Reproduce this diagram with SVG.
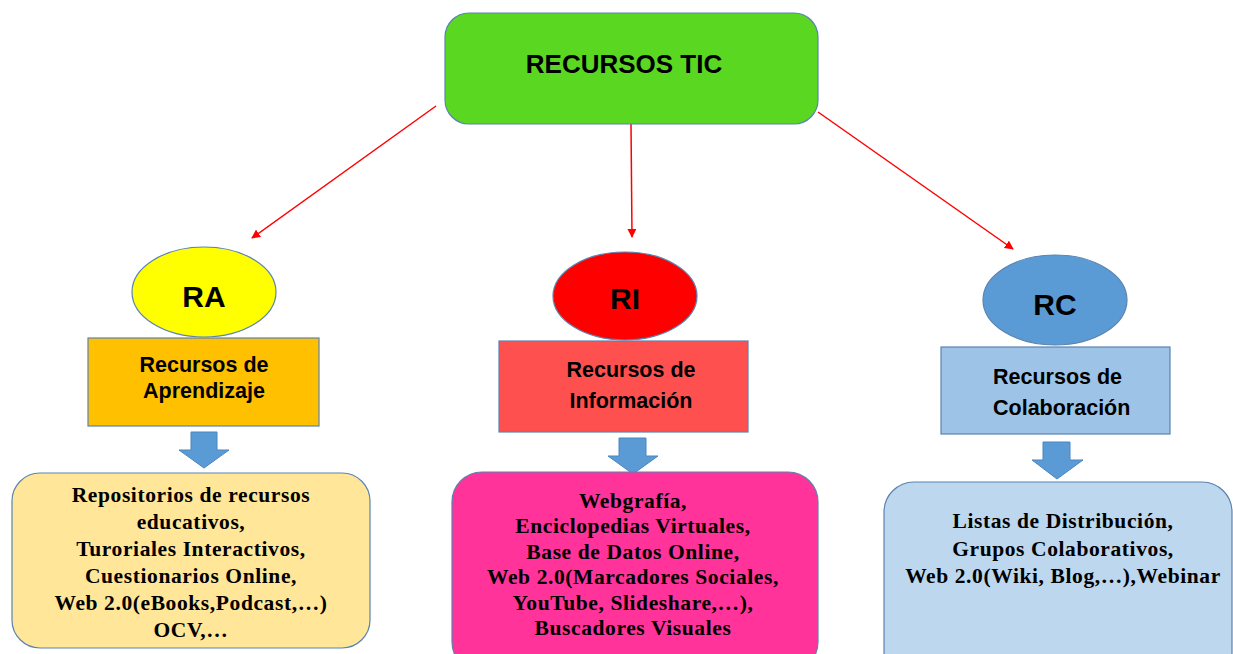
<svg xmlns="http://www.w3.org/2000/svg" width="1233" height="654" viewBox="0 0 1233 654">
<defs>
<style>
.sh{stroke:#5B83B0;stroke-width:1.2}
.lbl{font-family:"Liberation Sans",Arial,sans-serif;font-weight:bold;fill:#000}
.body{font-family:"Liberation Serif","Times New Roman",serif;font-weight:bold;font-size:21.5px;letter-spacing:0.6px;fill:#000;text-anchor:middle}
.con{stroke:#FF0000;stroke-width:1.5;fill:none}
.blk{fill:#5B9BD5;stroke:#4A86BF;stroke-width:1}
</style>
<marker id="ah2" viewBox="0 0 10 10" refX="9" refY="5" markerWidth="9" markerHeight="9" orient="auto" markerUnits="userSpaceOnUse">
<path d="M0,0 L10,5 L0,10 z" fill="#FF0000"/>
</marker>
</defs>
<rect width="1233" height="654" fill="#FFFFFF"/>

<g id="connectors">
<line class="con" x1="436" y1="106" x2="252" y2="238" marker-end="url(#ah2)"/>
<line class="con" x1="631" y1="124" x2="632" y2="237" marker-end="url(#ah2)"/>
<line class="con" x1="818" y1="112" x2="1013" y2="249" marker-end="url(#ah2)"/>
</g>

<g id="recursos-tic">
<rect class="sh" x="445" y="13" width="373" height="111" rx="24" fill="#5AD721"/>
<text class="lbl" x="624" y="73" font-size="26" text-anchor="middle">RECURSOS TIC</text>
</g>

<g id="ra">
<ellipse class="sh" cx="204" cy="292" rx="72" ry="45" fill="#FFFF00"/>
<text class="lbl" x="204" y="307" font-size="30" text-anchor="middle">RA</text>
</g>
<g id="ra-label">
<rect class="sh" x="88" y="338" width="231" height="88" fill="#FFC000"/>
<text class="lbl" x="204" y="372" font-size="21.5" text-anchor="middle">Recursos de</text>
<text class="lbl" x="204" y="398" font-size="21.5" text-anchor="middle">Aprendizaje</text>
</g>
<g id="ra-arrow">
<path class="blk" d="M191,432 H217 V450 H229 L204,468 L179,450 H191 Z"/>
</g>
<g id="ra-list">
<rect class="sh" x="12" y="473" width="358" height="175" rx="28" fill="#FFE699"/>
<text class="body" x="191" y="502">Repositorios de recursos</text>
<text class="body" x="191" y="529">educativos,</text>
<text class="body" x="191" y="556">Turoriales Interactivos,</text>
<text class="body" x="191" y="583">Cuestionarios Online,</text>
<text class="body" x="191" y="610">Web 2.0(eBooks,Podcast,…)</text>
<text class="body" x="191" y="637">OCV,…</text>
</g>

<g id="ri">
<ellipse class="sh" cx="625" cy="296" rx="72" ry="44" fill="#FF0000"/>
<text class="lbl" x="625" y="309" font-size="30" text-anchor="middle">RI</text>
</g>
<g id="ri-label">
<rect class="sh" x="499" y="341" width="249" height="91" fill="#FF5050"/>
<text class="lbl" x="631" y="377" font-size="21.5" text-anchor="middle">Recursos de</text>
<text class="lbl" x="631" y="408" font-size="21.5" text-anchor="middle">Información</text>
</g>
<g id="ri-arrow">
<path class="blk" d="M619,438 H646 V456 H658 L633,474 L608,456 H619 Z"/>
</g>
<g id="ri-list">
<rect class="sh" x="452" y="472" width="366" height="200" rx="30" fill="#FF3399"/>
<text class="body" x="633" y="508">Webgrafía,</text>
<text class="body" x="633" y="533">Enciclopedias Virtuales,</text>
<text class="body" x="633" y="559">Base de Datos Online,</text>
<text class="body" x="633" y="584">Web 2.0(Marcadores Sociales,</text>
<text class="body" x="633" y="610">YouTube, Slideshare,…),</text>
<text class="body" x="633" y="635">Buscadores Visuales</text>
</g>

<g id="rc">
<ellipse class="sh" cx="1055" cy="300" rx="72" ry="45" fill="#5B9BD5"/>
<text class="lbl" x="1055" y="315" font-size="30" text-anchor="middle">RC</text>
</g>
<g id="rc-label">
<rect class="sh" x="941" y="347" width="229" height="87" fill="#9DC3E6"/>
<text class="lbl" x="993" y="384" font-size="21.5">Recursos de</text>
<text class="lbl" x="993" y="415" font-size="21.5">Colaboración</text>
</g>
<g id="rc-arrow">
<path class="blk" d="M1043,442 H1070 V460 H1083 L1057,479 L1032,460 H1043 Z"/>
</g>
<g id="rc-list">
<rect class="sh" x="884" y="482" width="348" height="200" rx="30" fill="#BDD7EE"/>
<text class="body" x="1063" y="528">Listas de Distribución,</text>
<text class="body" x="1063" y="556">Grupos Colaborativos,</text>
<text class="body" x="1063" y="583">Web 2.0(Wiki, Blog,…),Webinar</text>
</g>
</svg>
